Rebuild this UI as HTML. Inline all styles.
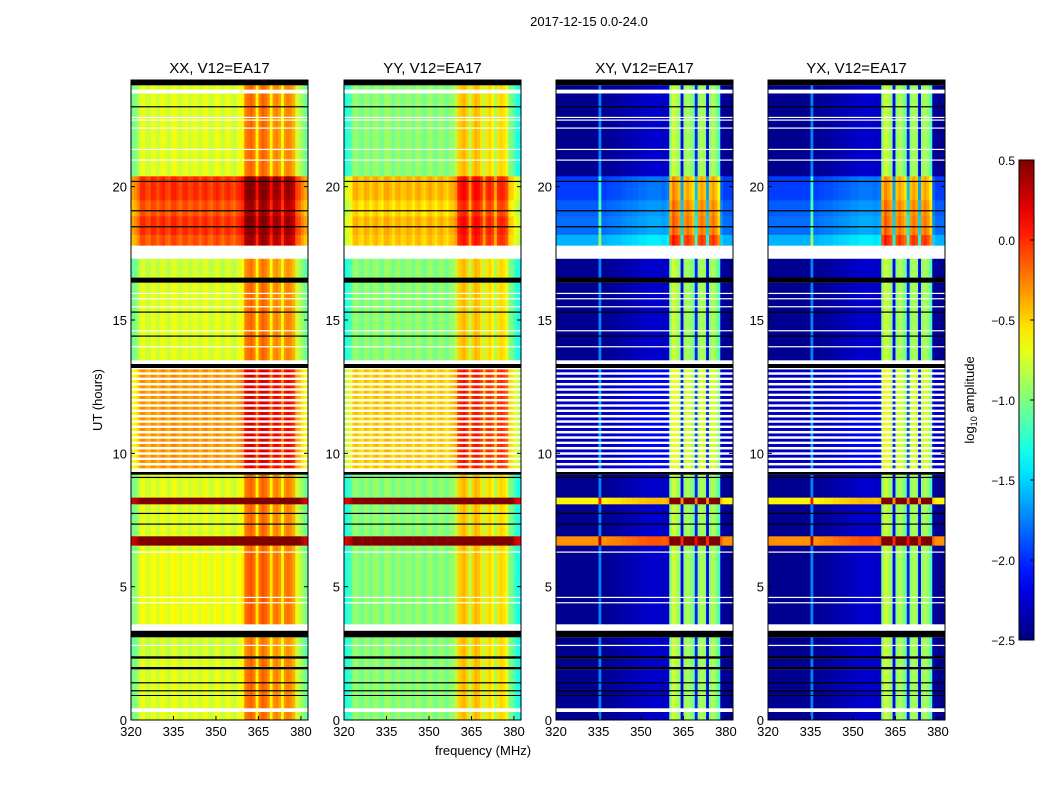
<!DOCTYPE html>
<html><head><meta charset="utf-8">
<style>
body{margin:0;background:#fff;}
svg{display:block;font-family:"Liberation Sans",sans-serif;}
</style></head>
<body>
<svg id="fig" width="1050" height="800">
<text x="589" y="26" font-size="13" text-anchor="middle">2017-12-15 0.0-24.0</text>
<text x="0" y="0" font-size="13" text-anchor="middle" transform="translate(102,400) rotate(-90)">UT (hours)</text>
<text x="483" y="755" font-size="13" text-anchor="middle">frequency (MHz)</text>
<text x="0" y="0" font-size="13" text-anchor="middle" transform="translate(974,400) rotate(-90)">log<tspan font-size="9" dy="3">10</tspan><tspan dy="-3"> amplitude</tspan></text>
</svg>
<script>
// ---- data ----
const panelTitles = ["XX, V12=EA17","YY, V12=EA17","XY, V12=EA17","YX, V12=EA17"];
const panelKind = ["xx","yy","xy","xy"];
const xTicks = [320,335,350,365,380];
const yTicks = [0,5,10,15,20];
const cbTicks = [0.5,0.0,-0.5,-1.0,-1.5,-2.0,-2.5];
const cbTickLabels = ["0.5","0.0","\u22120.5","\u22121.0","\u22121.5","\u22122.0","\u22122.5"];
// frequency channel starts (MHz), 1 MHz wide
const freqs = [];
for (let f=320; f<382.5; f+=1) freqs.push(f);
// per-channel offset, co-pol
const coOffset = [-0.3,-0.25,-0.15,0.05,0.08,-0.02,-0.05,0.08,0.05,-0.05,0.05,0.1,0.0,-0.05,0.08,0.1,0.02,-0.05,0.05,0.08,-0.02,0.0,0.08,0.05,-0.05,0.05,0.1,0.0,-0.05,0.05,0.1,0.02,-0.05,0.05,0.08,0.0,-0.05,0.05,0.08,0.15,0.5,0.55,0.6,0.5,0.15,0.5,0.6,0.55,0.45,0.15,0.45,0.5,0.4,0.1,0.45,0.5,0.45,0.35,0.0,-0.05,-0.2,-0.3,-0.35];
// per-channel offset, cross-pol
const crossOffset = [0,0,0,0,0,0,0,0,0,0,0,0,0,0,0,0.7,0.0,0.0,0.03,0.03,0.05,0.05,0.05,0.08,0.08,0.1,0.1,0.12,0.12,0.15,0.15,0.15,0.18,0.18,0.18,0.18,0.18,0.15,0.15,0.2,1.5,1.7,1.6,1.5,0.3,1.5,1.6,1.5,1.4,0.4,1.5,1.6,1.5,0.3,1.5,1.6,1.5,1.3,0.1,0,0,0,0];
// time segments: [t0, t1, xx, yy, xy]; "w" = flagged (white), "k" = black, "s" = striped
const segStart = [0,0.3,0.45,0.9,0.95,1.9,2.0,2.3,2.4,3.1,3.35,3.6,6.3,6.55,6.9,8.1,8.35,9.2,9.3,9.45,13.2,13.35,13.5,16.4,16.6,17.3,17.8,18.2,18.9,19.5,20.4,23.5,23.65,23.8];
const segEnd   = [0.3,0.45,0.9,0.95,1.9,2.0,2.3,2.4,3.1,3.35,3.6,6.3,6.55,6.9,8.1,8.35,9.2,9.3,9.45,13.2,13.35,13.5,16.4,16.6,17.3,17.8,18.2,18.9,19.5,20.4,23.5,23.65,23.8,24];
const segXX = [-0.75,"w",-0.75,"k",-0.75,"k",-0.75,"k",-0.8,"k","w",-0.7,-0.75,0.55,-0.75,0.55,-0.75,"k","w","s","k","w",-0.75,"k",-0.8,"w",-0.15,-0.05,-0.15,-0.05,-0.75,"w",-0.75,"k"];
const segYY = [-1.0,"w",-1.0,"k",-1.0,"k",-1.0,"k",-1.0,"k","w",-1.0,-1.0,0.5,-1.0,0.5,-1.0,"k","w","s","k","w",-1.0,"k",-1.0,"w",-0.5,-0.45,-0.55,-0.45,-1.0,"w",-1.0,"k"];
const segXY = [-2.45,"w",-2.45,"k",-2.45,"k",-2.45,"k",-2.45,"k","w",-2.45,-2.45,-0.3,-2.45,-0.6,-2.45,"k","w","s","k","w",-2.45,"k",-2.45,"w",-1.6,-1.8,-1.85,-1.95,-2.45,"w",-2.45,"k"];
const stripeLevel = {xx:-0.35, yy:-0.5, xy:-2.3};
const blackLines = [1.1,1.4,7.35,7.75,9.1,14.4,15.3,18.5,19.1,20.2,23.0];
const whiteLines = [2.8,4.4,4.6,6.3,14.0,14.6,15.5,15.8,16.0,21.0,21.4,22.2,22.5,22.6];

// ---- layout ----
const NS="http://www.w3.org/2000/svg";
const svg=document.getElementById('fig');
const panelX=[131,344,556,768], PW=177, PT=80, PB=720;
const fMin=320, fMax=382.5, tMin=0, tMax=24, vMin=-2.5, vMax=0.5;
function mk(tag,attrs,parent){const e=document.createElementNS(NS,tag);for(const k in attrs)e.setAttribute(k,attrs[k]);(parent||svg).appendChild(e);return e;}
function clip01(v){return Math.max(0,Math.min(1,v));}
function jet(v){const x=clip01((v-vMin)/(vMax-vMin));
 const r=clip01(1.5-Math.abs(4*x-3)),g=clip01(1.5-Math.abs(4*x-2)),b=clip01(1.5-Math.abs(4*x-1));
 return `rgb(${Math.round(r*255)},${Math.round(g*255)},${Math.round(b*255)})`;}

panelX.forEach((px,pi)=>{
 const kind=panelKind[pi];
 const xs=f=>px+(f-fMin)/(fMax-fMin)*PW;
 const ys=t=>PB-(t-tMin)/(tMax-tMin)*(PB-PT);
 const g=mk('g',{});
 
 
 const segVals = kind==='xx'?segXX:kind==='yy'?segYY:segXY;
 const offs = kind==='xy'?crossOffset:coOffset;
 const rows=[];
 segStart.forEach((t0,si)=>{
  const t1=segEnd[si], v=segVals[si];
  if(v==="s"){
   let i=0;
   for(let t=t0;t<t1-1e-6;t+=0.1){rows.push([t,Math.min(t+0.1,t1),(i%2===0)?stripeLevel[kind]:"w"]);i++;}
  } else rows.push([t0,t1,v]);
 });
 rows.forEach(r=>{
  const y0=ys(r[1]), h=ys(r[0])-ys(r[1]);
  if(r[2]==="w"||r[2]==="k"){
   const e=mk('rect',{x:px,y:y0,width:PW,height:h,fill:r[2]==="w"?"#fff":"#000"},g);
   
   
   return;
  }
  freqs.forEach((f,fi)=>{
   const x0=xs(f), x1=xs(Math.min(f+1,fMax));
   const e=mk('rect',{x:x0,y:y0,width:x1-x0+0.4,height:h+0.3,fill:jet(r[2]+offs[fi])},g);
   
   
  });
 });
 blackLines.forEach(t=>{const e=mk('rect',{x:px,y:ys(t)-0.5,width:PW,height:1.2,fill:'#000'},g);
  
  });
 whiteLines.forEach(t=>{const e=mk('rect',{x:px,y:ys(t)-0.5,width:PW,height:1.2,fill:'#fff'},g);
  
  });
 const fr=mk('rect',{x:px,y:PT,width:PW,height:PB-PT,fill:'none',stroke:'#000','stroke-width':1});
 
 
 const ti=mk('text',{x:px+PW/2,y:73,'font-size':15,'text-anchor':'middle'});
 ti.textContent=panelTitles[pi];
 
 
 xTicks.forEach(f=>{
  const x=xs(f);
  mk('line',{x1:x,x2:x,y1:PB,y2:PB-4,stroke:'#000'});
  mk('line',{x1:x,x2:x,y1:PT,y2:PT+4,stroke:'#000'});
  const t=mk('text',{x:x,y:PB+16,'font-size':13,'text-anchor':'middle'});
  t.textContent=f;
  
  
 });
 yTicks.forEach(v=>{
  const y=ys(v);
  mk('line',{x1:px,x2:px+4,y1:y,y2:y,stroke:'#000'});
  mk('line',{x1:px+PW,x2:px+PW-4,y1:y,y2:y,stroke:'#000'});
  const t=mk('text',{x:px-4,y:y+5,'font-size':13,'text-anchor':'end'});
  t.textContent=v;
  
  
 });
});

// colorbar
const cbX=1019, cbW=15, cbT=160, cbB=640;
const defs=mk('defs',{});
const lg=mk('linearGradient',{id:'cbg',x1:0,y1:1,x2:0,y2:0},defs);
for(let i=0;i<=20;i++){mk('stop',{offset:i/20,'stop-color':jet(vMin+(vMax-vMin)*i/20)},lg);}
const cb=mk('rect',{x:cbX,y:cbT,width:cbW,height:cbB-cbT,fill:'url(#cbg)',stroke:'#000'});


const cys=v=>cbB-(v-vMin)/(vMax-vMin)*(cbB-cbT);
cbTicks.forEach((v,i)=>{
 const y=cys(v);
 mk('line',{x1:cbX+cbW-4,x2:cbX+cbW,y1:y,y2:y,stroke:'#000'});
 const t=mk('text',{x:cbX-4,y:y+5,'font-size':12,'text-anchor':'end'});
 t.textContent=cbTickLabels[i];
 
 
});
</script>
</body></html>
